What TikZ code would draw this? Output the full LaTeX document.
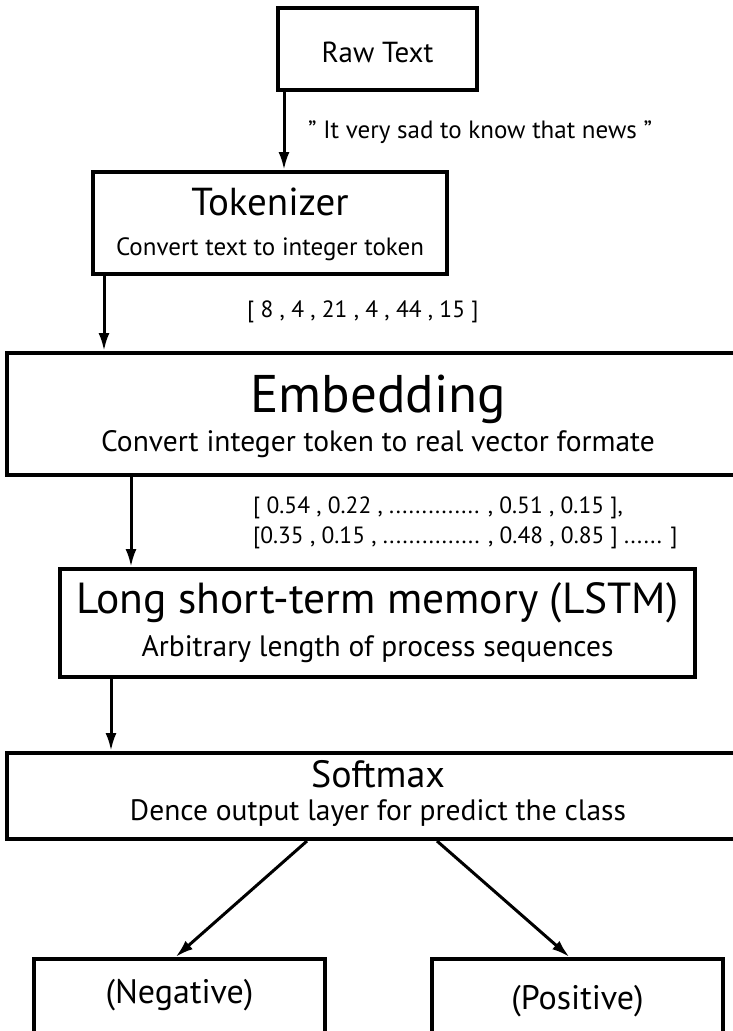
\documentclass[tikz,border=0pt]{standalone}
\usepackage{fontspec}
\setmainfont{PT Sans}
\usetikzlibrary{arrows.meta}
\usetikzlibrary{positioning}

\begin{document}
\begin{tikzpicture}[x=1pt,y=-1pt,
	layer/.style={draw,line width=4pt,inner sep=0pt},
	title/.style={anchor=base,inner sep=0pt},
	sub/.style={anchor=base,inner sep=0pt,font=\fontsize{29.5}{30}\selectfont},
	note/.style={anchor=base west,inner sep=0pt,font=\fontsize{23.5}{30}\selectfont},
	flow/.style={-{Latex[length=18pt,width=11pt]},line width=3pt}
	]
	\useasboundingbox (0,0) rectangle (733,1031);
	\clip (0,0) rectangle (733,1031);
	% boxes
	\node[layer,minimum width=199pt,minimum height=82pt] (raw) at (377.5,49) {};
	\node[layer,minimum width=354pt,minimum height=102pt] (tok) at (270,223) {};
	\node[layer,minimum width=742pt,minimum height=122pt] (emb) at (378,414) {};
	\node[layer,minimum width=635pt,minimum height=108pt] (lstm) at (377.5,623) {};
	\node[layer,minimum width=742pt,minimum height=86pt] (smx) at (378,796) {};
	\node[layer,minimum width=291pt,minimum height=140pt,anchor=north] (neg) at (179.5,957) {};
	\node[layer,minimum width=291pt,minimum height=140pt,anchor=north] (pos) at (577.5,957) {};
	% box texts
	\node[title,font=\fontsize{29}{30}\selectfont] (rawT) at ([yshift=-13pt]raw.center) {Raw Text};
	\node[title,font=\fontsize{39}{40}\selectfont] (tokT) at ([yshift=8pt]tok.center) {Tokenizer};
	\node[sub,font=\fontsize{25}{30}\selectfont] (tokS) at ([yshift=-32pt]tok.center) {Convert text to integer token};
	\node[title,font=\fontsize{53}{50}\selectfont] (embT) at ([yshift=2pt]emb.center) {Embedding};
	\node[sub] (embS) at ([yshift=-37pt]emb.center) {Convert integer token to real vector formate};
	\node[title,font=\fontsize{43.5}{40}\selectfont] (lstmT) at ([yshift=10pt]lstm.center) {Long short-term memory (LSTM)};
	\node[sub] (lstmS) at ([yshift=-33pt]lstm.center) {Arbitrary length of process sequences};
	\node[title,font=\fontsize{38}{33}\selectfont] (smxT) at ([yshift=9pt]smx.center) {Softmax};
	\node[sub] (smxS) at ([yshift=-24pt]smx.center) {Dence output layer for predict the class};
	\node[title,font=\fontsize{34}{30}\selectfont] (negT) at (179.5,1003) {(Negative)};
	\node[title,font=\fontsize{34}{30}\selectfont] (posT) at (577.5,1009) {(Positive)};
	% data between the layers
	\node[note,font=\fontsize{25}{30}\selectfont] (sent) at (308,138) {” It very sad to know that news ”};
	\node[note] (ids) at (247,317) {[ 8 , 4 , 21 , 4 , 44 , 15 ]};
	\node[note] (vec1) at (253,513) {[ 0.54 , 0.22 , .............. , 0.51 , 0.15 ],};
	\node[note] (vec2) at (253,543) {[0.35 , 0.15 , ............... , 0.48 , 0.85 ] ...... ]};
	% arrows
	\draw[flow] ([xshift=8pt]raw.south west) -- ([xshift=8pt]raw.south west |- tok.north);
	\draw[flow] ([xshift=13pt]tok.south west) -- ([xshift=13pt]tok.south west |- emb.north);
	\draw[flow] ([xshift=73pt]lstm.north west |- emb.south) -- ([xshift=73pt]lstm.north west);
	\draw[flow] ([xshift=53pt]lstm.south west) -- ([xshift=53pt]lstm.south west |- smx.north);
	\draw[flow] ([xshift=-71pt]smx.south) -- ([xshift=-4pt]neg.north);
	\draw[flow] ([xshift=59pt]smx.south) -- ([xshift=-8pt]pos.north);
\end{tikzpicture}
\end{document}
